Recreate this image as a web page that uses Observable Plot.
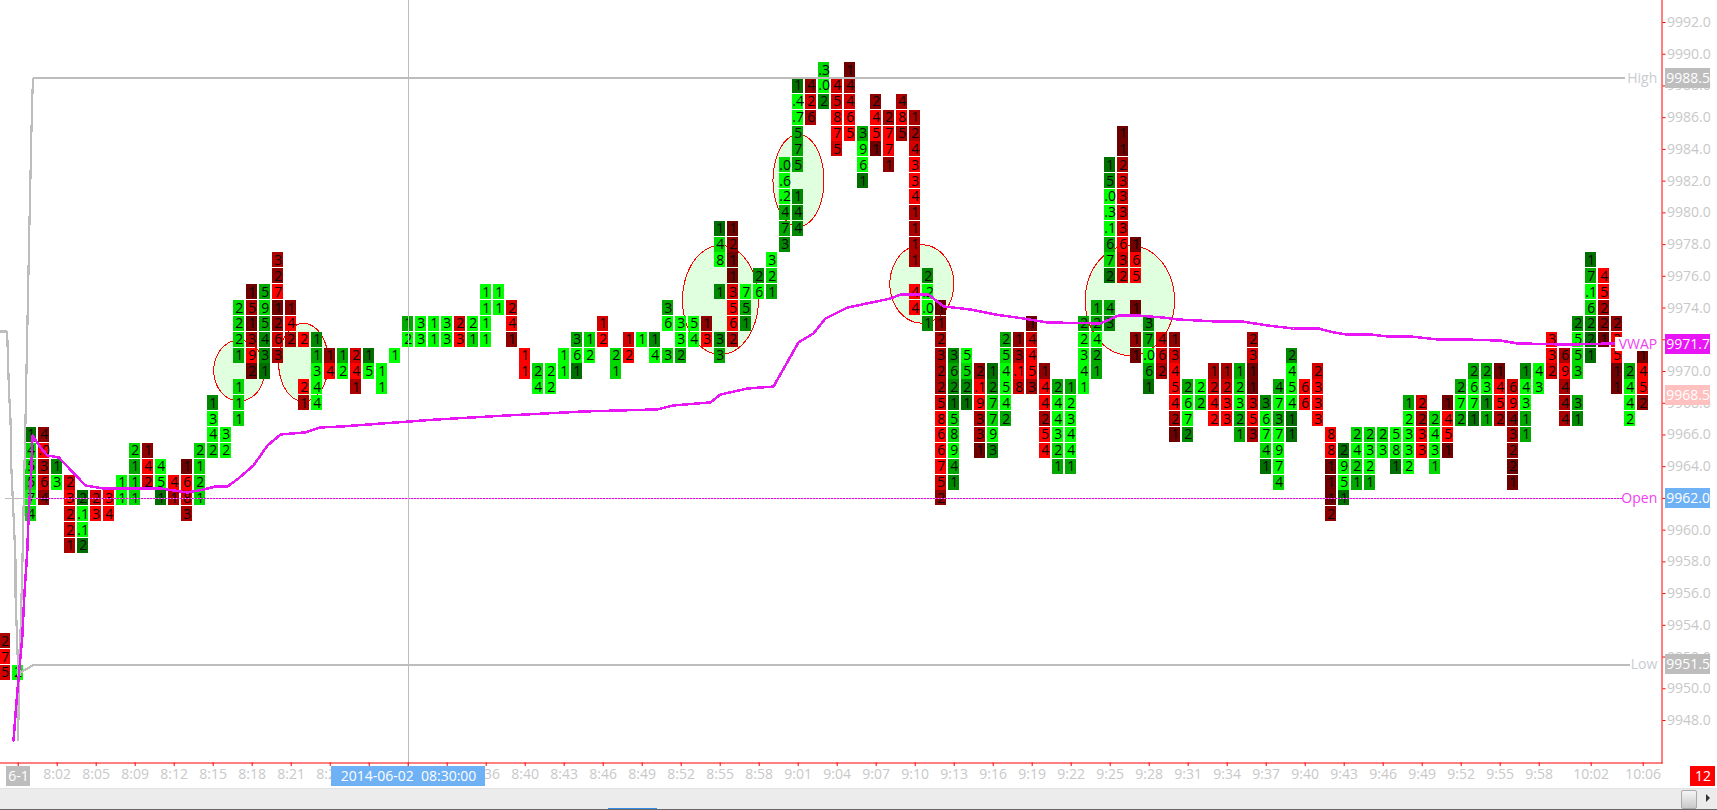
<!DOCTYPE html>
<html>
<head>
<meta charset="utf-8">
<script src="https://cdn.jsdelivr.net/npm/d3@7"></script>
<script src="https://cdn.jsdelivr.net/npm/@observablehq/plot@0.6"></script>
<style>
html,body{margin:0;padding:0;background:#fff;overflow:hidden;width:1717px;height:810px}
#chart svg{display:block}
#bar{position:relative;height:20px;background:#ececec;border-top:1px solid #e2e2e2;border-bottom:1px solid #666;box-sizing:content-box}
#thumb{position:absolute;left:1681px;top:1px;width:14px;height:17px;border:1px solid #aaa;border-radius:2px;background:linear-gradient(#f6f6f6,#c9c9c9)}
#arrow{position:absolute;left:1706px;top:5px;width:0;height:0;border-left:4px solid #333;border-top:4px solid transparent;border-bottom:4px solid transparent}
#blue{position:absolute;left:608px;top:19px;width:49px;height:1px;background:#2f8fe8}
</style>
</head>
<body>
<div id="chart"></div>
<div id="bar"><div id="blue"></div><div id="thumb"></div><div id="arrow"></div></div>
<script>
// One footprint column per time slot: top price, cell values top-down ("_" = empty row), tone letters top-down.
const columnTop = [
9953,9951,9966,9966,9964,9963,9962,9962,9962,9963,9965,9965,9964,9963,9964,9965,9968,9966,9974,9975,
9975,9977,9974,9972,9972,9971,9971,9971,9971,9970,9971,9973,9973,9973,9973,9973,9973,9975,9975,9974,
9971,9970,9970,9971,9972,9972,9973,9971,9972,9972,9972,9974,9973,9973,9973,9979,9979,9975,9976,9977,
9983,9988,9988,9989,9988,9989,9985,9987,9986,9987,9986,9976,9974,9971,9971,9970,9970,9972,9972,9973,
9970,9969,9969,9973,9974,9983,9985,9978,9973,9972,9972,9969,9969,9970,9970,9970,9972,9968,9969,9971,
9969,9970,9966,9965,9966,9966,9966,9966,9968,9968,9967,9968,9969,9970,9970,9970,9969,9970,9970,9972,
9971,9973,9977,9976,9973,9970,9971];
const columnValues = [
"2 7 5","2","1 4 5 5 7 4","4 .0 3 6 4","1 3","2 3 2 2 1","2 .1 .1 2","2 3","3 4","1 1",
"2 1 1 1","1 4 2","4 5 1","4 1","1 6 8 3","2 1 2 1","1 3 4 2","3 2","2 2 2 1 _ 1 1 1","1 5 1 3 9 2",
"5 9 5 4 3 1","3 2 7 1 2 6 3","1 4 2","2 _ _ 2 1","1 1 3 4 4","1 4","1 2","2 4 1","1 5","1 1",
"1","1 2","3 3","1 1","3 3","2 3","2 1","1 1 1 1","1 1","2 4 1",
"1 1","2 4","2 2","1 1","3 6 1","1 2","1 2","2 1","1 2","1",
"1 4","3 6 _ 3","3 3 2","5 4","1 3","1 4 8 _ 1 _ _ 3 3","1 2 1 1 3 5 6 2","7 5 1","2 6","3 2 1",
".0 .6 .2 4 7 3","1 .4 .7 5 7 5 _ 1 4 4","4 2 6",".3 .0 2","4 5 8 7 5","1 4 4 6 5","3 9 6 1","2 4 5 1","2 7 7 1","4 8 5",
"1 2 4 3 3 4 1 1 1 1 _ 4 4","2 .2 .0 1","1 1 2 3 2 2 5 8 6 6 7 5 2","3 6 2 1 5 8 9 4 1","5 5 2 1","2 .1 9 3 3 1","1 2 7 7 9 3","2 5 4 5 4 2","1 3 .1 8","1 4 4 5 3",
"1 4 4 2 5 4","2 4 4 3 2 1","1 2 3 4 4 1","2 2 3 4 1","1 2 4 2 1","1 5 .0 .3 .1 6 7 2 _ 4 3","1 1 2 3 3 3 3 6 3 2","1 6 5 _ 1 _ 1 1","3 7 .0 6 1","4 6 2",
"1 3 4 5 4 2 1","2 6 7 2","2 2","1 2 4 2","1 2 3 3","1 2 3 2 1","2 3 1 1 3 5 3","3 6 7 4 1","4 7 3 7 9 7 4","2 4 5 4 1 1",
"6 6","2 3 3 3","8 8 1 1 1 2","2 9 5 1","2 4 2 1","2 3 2 1","2 3","5 8 1","1 2 3 3 2","2 2 3 3",
"2 4 3 1","1 4 5 1","2 7 2","2 6 7 1","2 3 1 1","1 4 5 2","6 9 4 3 2 2 1","1 4 3 1 1","4 3","3 3 2",
"6 9 4 4 4","2 5 5 3 _ 3 1","1 7 .1 6 2 2 1","4 5 2 2 1","2 3 5 1 1","2 4 4 2","1 4 5 2"];
const columnTones = [
"cab","A","EBBBAB","dacbd","DA","babbc","EAAE","ba","aa","AA",
"BCBB","dab","AAE","ac","eabc","BBBB","DAAB","AA","BBBC_BBB","ececae",
"CBCDDE","cdaedbc","dac","a__ac","DCAAA","da","CA","bac","EA","AA",
"A","CA","AA","AA","AA","ba","AB","AAAA","AA","bad",
"aa","BA","AA","AA","CAE","BA","ba","BB","ba","A",
"DA","CA_B","AAC","AA","da","EBA_D__DC","edeebaac","ACD","DA","ABC",
"BAACCD","EAACCC_DDD","dbc","BAD","bbaab","ecbaa","CAAE","daae","caad","cac",
"ccbaaacccc_aa","DAAD","edccccbaaaabd","DCDEBBACD","ABDE","daacce","EDBBAD","CBAAAC","dcab","ebaac",
"daacaa","CAAABC","CAAAAC","CAAAA","CCACC","EDAAACBE_CD","eecbbbbabb","eaa_e_de","DCACE","bbc",
"dbaaace","CAAD","AB","cbaa","cbaa","CBACC","cbeebac","DAABE","CACAAAB","DAAAEE",
"aa","baaa","aaeeed","EAAE","BABC","BAAC","BA","AAE","CAAAA","bcaa",
"BAAB","eaae","CAC","CAAE","CADC","eaac","badcdee","DAACC","AA","aab",
"caccc","DABB_CD","ECABDEE","aacde","daaee","CAAA","eaad"];

const toneNames  = ["A","B","C","D","E","a","b","c","d","e"];
const toneColors = ["#00ff00","#00d800","#00a800","#008800","#006f00","#ff0000","#d40000","#aa0000","#8f0000","#6f0000"];

// VWAP line (column, price)
const vwapCol = [0.64,0.92,1.31,1.48,1.69,1.82,2,2.1,2.72,3.23,4.12,6.18,7.56,11.95,14.02,15.25,16.18,17.1,17.95,19.1,20.18,21.18,23.1,24.25,25.8,33.1,38.64,44.49,50.18,51.41,54.25,55.02,57.1,59.1,61.02,62.18,63.1,64.79,68.1,68.87,71.02,72.18,74.25,76.18,78.33,80.18,84.25,85.64,87.1,89.1,90.18,93.25,95.18,97.1,99.1,101.02,102.18,103.25,105.02,106.33,108.1,110.18,112.18,115.02,116.33,120.18,123.87];
const vwapPrice = [9946.74,9949.7,9953.23,9956.01,9958.53,9961.24,9963.57,9965.97,9965.21,9964.71,9964.58,9962.81,9962.63,9962.63,9962.37,9962.56,9962.75,9962.75,9963.26,9964.08,9965.34,9966.03,9966.16,9966.47,9966.53,9966.97,9967.23,9967.48,9967.61,9967.86,9968.05,9968.55,9968.93,9969.05,9971.83,9972.4,9973.34,9974.03,9974.6,9974.85,9974.85,9974.1,9973.91,9973.59,9973.34,9973.09,9973.03,9973.53,9973.53,9973.4,9973.28,9973.15,9973.15,9972.9,9972.71,9972.71,9972.46,9972.33,9972.33,9972.21,9972.21,9972.02,9972.02,9971.95,9971.77,9971.7,9971.77];

// Session high, session low and prior-session traces
const highCol = [0.98,1.12,1.31,1.56,1.87,2.02,2.1,2.18,124.56];
const highPrice = [9946.74,9951.78,9957.46,9966.91,9979.52,9985.19,9987.71,9988.5,9988.5];
const priorCol = [-0.36,0.15,0.2,0.28,0.41,0.48,0.66,0.79,0.79,0.97,0.97];
const priorPrice = [9972.52,9972.52,9971.14,9969,9966.91,9963.76,9960.61,9958.09,9956.01,9951.78,9946.74];
const lowCol = [1.18,2.18,124.95];
const lowPrice = [9951.03,9951.5,9951.5];

// Highlight ellipses
const ellipseCol   = [18,22.95,55.02,61.02,70.51,86.51];
const ellipsePrice = [9970.06,9970.57,9974.51,9982.04,9975.52,9974.48];
const ellipseRCol  = [1.96,1.92,2.92,1.96,2.46,3.44];
const ellipseRPrice= [1.92,2.46,3.44,2.9,2.47,3.47];

// Axes
const priceTicks = d3.range(9948,9993,2);
const timeCols = [1,4,7,10,13,16,19,22,25,28,31,34,37,40,43,46,49,52,55,58,61,64,67,70,73,76,79,82,85,88,91,94,97,100,103,106,109,112,115,118,122,126];
const timeLabels = ["","8:02","8:05","8:09","8:12","8:15","8:18","8:21","8:24","","","","8:36","8:40","8:43","8:46","8:49","8:52","8:55","8:58","9:01","9:04","9:07","9:10","9:13","9:16","9:19","9:22","9:25","9:28","9:31","9:34","9:37","9:40","9:43","9:46","9:49","9:52","9:55","9:58","10:02","10:06"];

// Price tags on the right
const tagPrices = [9988.5,9971.7,9968.5,9962,9951.5];
const tagFills  = ["#bdbdbd","#e815f5","#ffc0c0","#6eb1f5","#bdbdbd"];
const levelNames = ["High","VWAP","","Open","Low"];
const levelColors = ["#c8ccd0","#f040f0","#fff","#f040f0","#c8ccd0"];

// Boxes on the time axis
const stampLeft  = [0.1,25.1,129.64];
const stampRight = [1.95,36.95,131.56];
const stampText  = ["6-1","2014-06-02  08:30:00","12"];
const stampFill  = ["#bdbdbd","#6eb1f5","#ff0000"];

const cells = [];
columnValues.forEach((s,c)=>{
  s.split(" ").forEach((v,r)=>{
    if(v!=="_") cells.push({col:c,price:columnTop[c]-r,value:v,tone:columnTones[c][r]});
  });
});
const zip=(xs,ys)=>xs.map((x,i)=>({x,y:ys[i]}));
const ellipsePts=[];
ellipseCol.forEach((c,i)=>{
  for(let k=0;k<=72;k++){
    const t=k/72*2*Math.PI;
    ellipsePts.push({id:i,x:c+ellipseRCol[i]*Math.cos(t),y:ellipsePrice[i]+ellipseRPrice[i]*Math.sin(t)});
  }
});
const FONT="'Open Sans'";
const AX="#c8c8c8";
const tagL=127.72,tagR=131.18,tagH=0.63,stampTop=9945.1,stampBot=9943.84;
const tags=tagPrices.map((p,i)=>({p,fill:tagFills[i],name:levelNames[i],nameColor:levelColors[i]}));
const stamps=stampText.map((t,i)=>({l:stampLeft[i],r:stampRight[i],t,f:stampFill[i]}));
const tlabel=new Map(timeCols.map((c,i)=>[c,timeLabels[i]]));
const crisp={shapeRendering:"crispEdges"};

const chart=Plot.plot({
  width:1717,height:788,
  marginLeft:0,marginRight:55.5,marginTop:0,marginBottom:25.5,
  style:{fontFamily:FONT,background:"#fff",overflow:"visible"},
  x:{type:"linear",domain:[0,126],range:[4.7,1642.7],axis:null},
  y:{type:"linear",domain:[9992,9948],range:[22,720],axis:null},
  color:{type:"ordinal",domain:toneNames,range:toneColors},
  marks:[
    Plot.line(ellipsePts,{x:"x",y:"y",z:"id",fill:"#dfffdf",stroke:"#ff0000",strokeWidth:1,...crisp}),
    Plot.rect(cells,{x1:d=>d.col-0.423,x2:d=>d.col+0.423,y1:d=>d.price+0.473,y2:d=>d.price-0.473,fill:"tone",...crisp}),
    Plot.text(cells,{x:"col",y:"price",text:"value",fill:"#0a0a0a",fontSize:14}),
    Plot.line(zip([0,124.4],[9962,9962]),{x:"x",y:"y",stroke:"#bdbdbd",strokeWidth:1,...crisp}),
    Plot.line(zip([2.4,124.4],[9962,9962]),{x:"x",y:"y",stroke:"#f000f0",strokeWidth:1,strokeDasharray:"1,2",...crisp}),
    Plot.ruleX([31.05],{y1:9993.4,y2:9944.3,stroke:"#bdbdbd",strokeWidth:1,...crisp}),
    Plot.line(zip(priorCol,priorPrice),{x:"x",y:"y",stroke:"#bdbdbd",strokeWidth:2.2,...crisp}),
    Plot.line(zip(highCol,highPrice),{x:"x",y:"y",stroke:"#bdbdbd",strokeWidth:2.2,...crisp}),
    Plot.line(zip(lowCol,lowPrice),{x:"x",y:"y",stroke:"#bdbdbd",strokeWidth:2.2,...crisp}),
    Plot.line(zip(vwapCol,vwapPrice),{x:"x",y:"y",stroke:"#e815f5",strokeWidth:2.5,...crisp}),
    Plot.frame({anchor:"right",stroke:"#ff0000"}),
    Plot.frame({anchor:"bottom",stroke:"#ff0000"}),
    Plot.axisY({anchor:"right",ticks:priceTicks,tickFormat:d=>d.toFixed(1),tickSize:3,tickPadding:2,stroke:"#ff0000",fill:AX,fontSize:14,label:null}),
    Plot.axisX({anchor:"bottom",ticks:timeCols,tickFormat:c=>tlabel.get(c),tickSize:3.5,tickPadding:3,stroke:"#ff0000",fill:AX,fontSize:14,label:null}),
    // price tags and level names
    Plot.rect(tags,{x1:tagL,x2:tagR,y1:d=>d.p+tagH,y2:d=>d.p-tagH,fill:d=>d.fill,...crisp}),
    Plot.text(tags,{x:(tagL+tagR)/2,y:"p",text:d=>d.p.toFixed(1),fill:"#fff",fontSize:14}),
    Plot.rect(tags.filter(d=>d.name==="VWAP"||d.name==="Open"),{x1:d=>d.name==="VWAP"?123.87:124.4,x2:127.1,y1:d=>d.p+0.45,y2:d=>d.p-0.45,fill:"#fff",...crisp}),
    Plot.text(tags,{x:127.08,y:"p",text:"name",textAnchor:"end",fill:d=>d.nameColor,fontSize:14}),
    // time stamps
    Plot.rect(stamps,{x1:"l",x2:"r",y1:stampTop,y2:stampBot,fill:d=>d.f,...crisp}),
    Plot.text(stamps,{x:d=>(d.l+d.r)/2,y:(stampTop+stampBot)/2,text:"t",fill:"#fff",fontSize:14})
  ]
});
document.getElementById("chart").append(chart);
</script>
</body>
</html>
